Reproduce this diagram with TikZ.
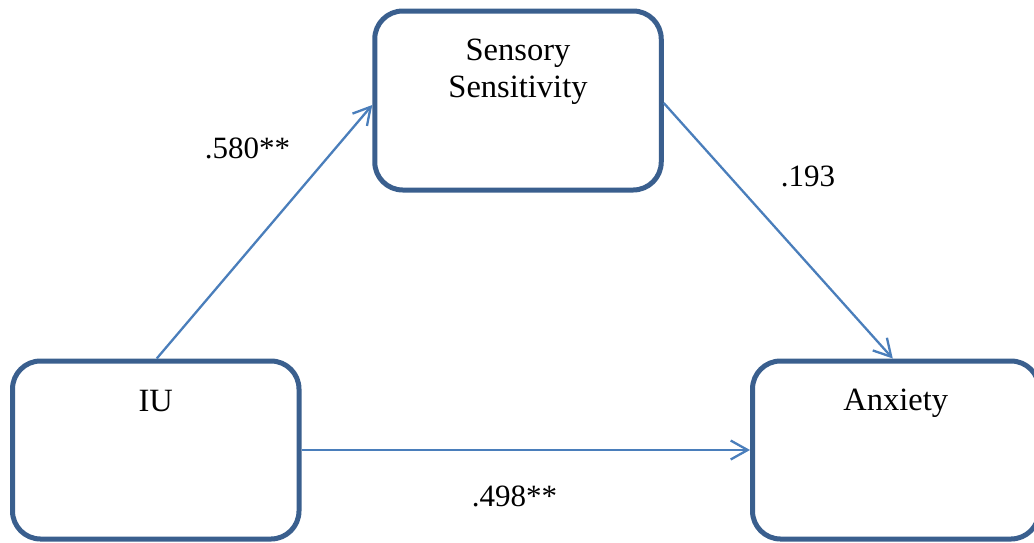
\documentclass[tikz,border=0pt]{standalone}
\usepackage{fontspec}
\setmainfont{Liberation Serif}
\usetikzlibrary{arrows.meta}
\definecolor{boxblue}{HTML}{3A5F8E}
\definecolor{arrowblue}{HTML}{4A7EBB}
\tikzset{
  varbox/.style={draw=boxblue, line width=5pt, rounded corners=28pt, fill=white,
    minimum width=286.5pt, inner sep=0pt},
  boxtext/.style={font=\fontsize{32.5}{37}\selectfont, text=black, inner sep=0pt, align=center},
  lbl/.style={font=\fontsize{31}{37}\selectfont, text=black, inner sep=0pt, align=center},
  path/.style={draw=arrowblue, line width=2.3pt,
    -{Straight Barb[length=17pt, width=19pt, line width=2.3pt]}}
}
\begin{document}
\begin{tikzpicture}[x=1pt,y=-1pt]
\useasboundingbox (0,0) rectangle (1034,542);
\clip (0,0) rectangle (1034,542);
\node[varbox, minimum height=179pt] (ss) at (518,100.5) {};
\node[varbox, minimum height=178pt] (iu) at (155.75,450) {};
\node[varbox, minimum height=178pt] (anx) at (895.75,450) {};
\node[boxtext, anchor=base] (sst) at ([yshift=-88.5pt]ss.north) {Sensory\\Sensitivity};
\node[boxtext, anchor=base] (iut) at ([yshift=-52.5pt]iu.north) {IU};
\node[boxtext, anchor=base] (anxt) at ([yshift=-51.5pt]anx.north) {Anxiety};
\draw[path] ([xshift=1pt]iu.north) -- ([yshift=-4.5pt]ss.west);
\draw[path] ([yshift=-2.5pt]ss.east) -- ([xshift=-3pt]anx.north);
\draw[path] (iu.east) -- (anx.west);
\node[lbl, anchor=base] (l1) at (247.5,158) {.580**};
\node[lbl, anchor=base] (l2) at (808,186) {.193};
\node[lbl, anchor=base] (l3) at (514.5,506) {.498**};
\end{tikzpicture}
\end{document}
